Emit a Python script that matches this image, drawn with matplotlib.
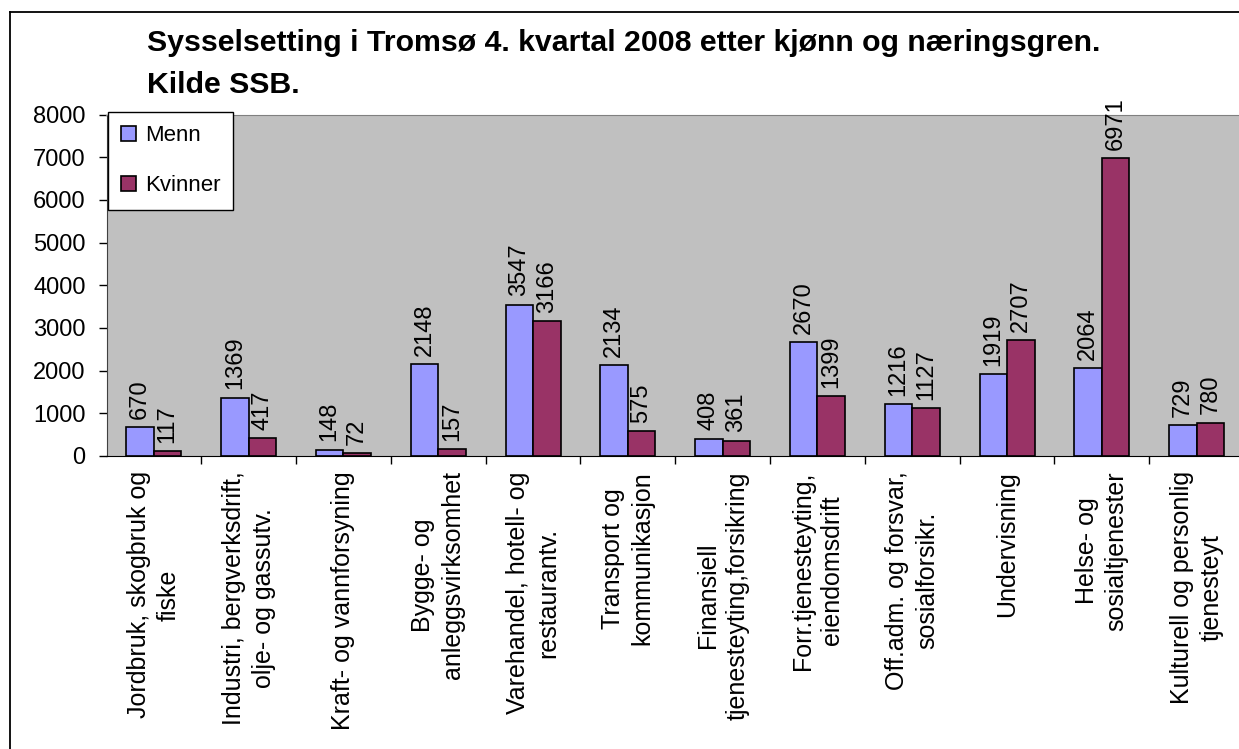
import matplotlib
matplotlib.use("Agg")
import matplotlib.pyplot as plt
from matplotlib.lines import Line2D
import numpy as np

plt.rcParams['font.family'] = ['Liberation Sans', 'DejaVu Sans']

categories = [
    "Jordbruk, skogbruk og\nfiske",
    "Industri, bergverksdrift,\nolje- og gassutv.",
    "Kraft- og vannforsyning",
    "Bygge- og\nanleggsvirksomhet",
    "Varehandel, hotell- og\nrestaurantv.",
    "Transport og\nkommunikasjon",
    "Finansiell\ntjenesteyting,forsikring",
    "Forr.tjenesteyting,\neiendomsdrift",
    "Off.adm. og forsvar,\nsosialforsikr.",
    "Undervisning",
    "Helse- og\nsosialtjenester",
    "Kulturell og personlig\ntjenesteyt",
]
menn = [670, 1369, 148, 2148, 3547, 2134, 408, 2670, 1216, 1919, 2064, 729]
kvinner = [117, 417, 72, 157, 3166, 575, 361, 1399, 1127, 2707, 6971, 780]
title1 = "Sysselsetting i Tromsø 4. kvartal 2008 etter kjønn og næringsgren."
title2 = "Kilde SSB."

W, H = 1239, 749
fig = plt.figure(figsize=(W / 100, H / 100), dpi=100)
ax = fig.add_axes([106.5 / W, 1 - 456 / H, (1244 - 106.5) / W, (456 - 114.5) / H])
ax.set_facecolor('#C0C0C0')

FS = 17
x = np.arange(len(categories))
bw = 0.29
b1 = ax.bar(x - bw / 2, menn, bw, color='#9999FF', edgecolor='black', linewidth=1.2, label='Menn')
b2 = ax.bar(x + bw / 2, kvinner, bw, color='#993366', edgecolor='black', linewidth=1.2, label='Kvinner')

for bars, vals in ((b1, menn), (b2, kvinner)):
    for rect, v in zip(bars, vals):
        ax.annotate(str(v), (rect.get_x() + rect.get_width() / 2, rect.get_height()),
                    xytext=(0, 6), textcoords='offset points', rotation=90,
                    ha='center', va='bottom', fontsize=FS)

ax.set_xlim(-0.5, len(categories) - 0.5)
ax.set_ylim(0, 8000)
ax.set_yticks(range(0, 8001, 1000))
ax.tick_params(axis='y', labelsize=FS, length=6, width=1, pad=9, direction='out')

ax.set_xticks(x)
ax.set_xticklabels(categories, rotation=90, fontsize=18, multialignment='center',
                   linespacing=1.3)
ax.set_xticks(np.arange(0.5, len(categories) - 0.5, 1), minor=True)
ax.tick_params(axis='x', which='major', length=0, pad=11)
ax.tick_params(axis='x', which='minor', length=6, width=1, direction='out')

ax.spines['top'].set_color('#808080')
ax.spines['left'].set_color('#404040')
ax.spines['bottom'].set_color('black')
ax.spines['right'].set_visible(False)

leg = fig.legend(handles=[b1, b2], loc='upper left',
                 bbox_to_anchor=(108 / W, 1 - 112 / H), bbox_transform=fig.transFigure,
                 fontsize=16, fancybox=False, framealpha=1, edgecolor='black',
                 handlelength=0.65, handleheight=0.65, handletextpad=0.4,
                 labelspacing=1.3, borderpad=0.6, borderaxespad=0)
leg.get_frame().set_linewidth(1)

fig.text(147 / W, 1 - 51 / H, title1, fontsize=21.8, fontweight='bold', ha='left', va='baseline')
fig.text(147 / W, 1 - 93 / H, title2, fontsize=21.8, fontweight='bold', ha='left', va='baseline')

# outer frame (left and top edges visible)
fig.add_artist(Line2D([9.5 / W, 9.5 / W], [0, 1 - 12 / H], color='black', linewidth=1.3))
fig.add_artist(Line2D([9.5 / W, 1], [1 - 12 / H, 1 - 12 / H], color='black', linewidth=1.3))

fig.savefig("out.png", dpi=100)
